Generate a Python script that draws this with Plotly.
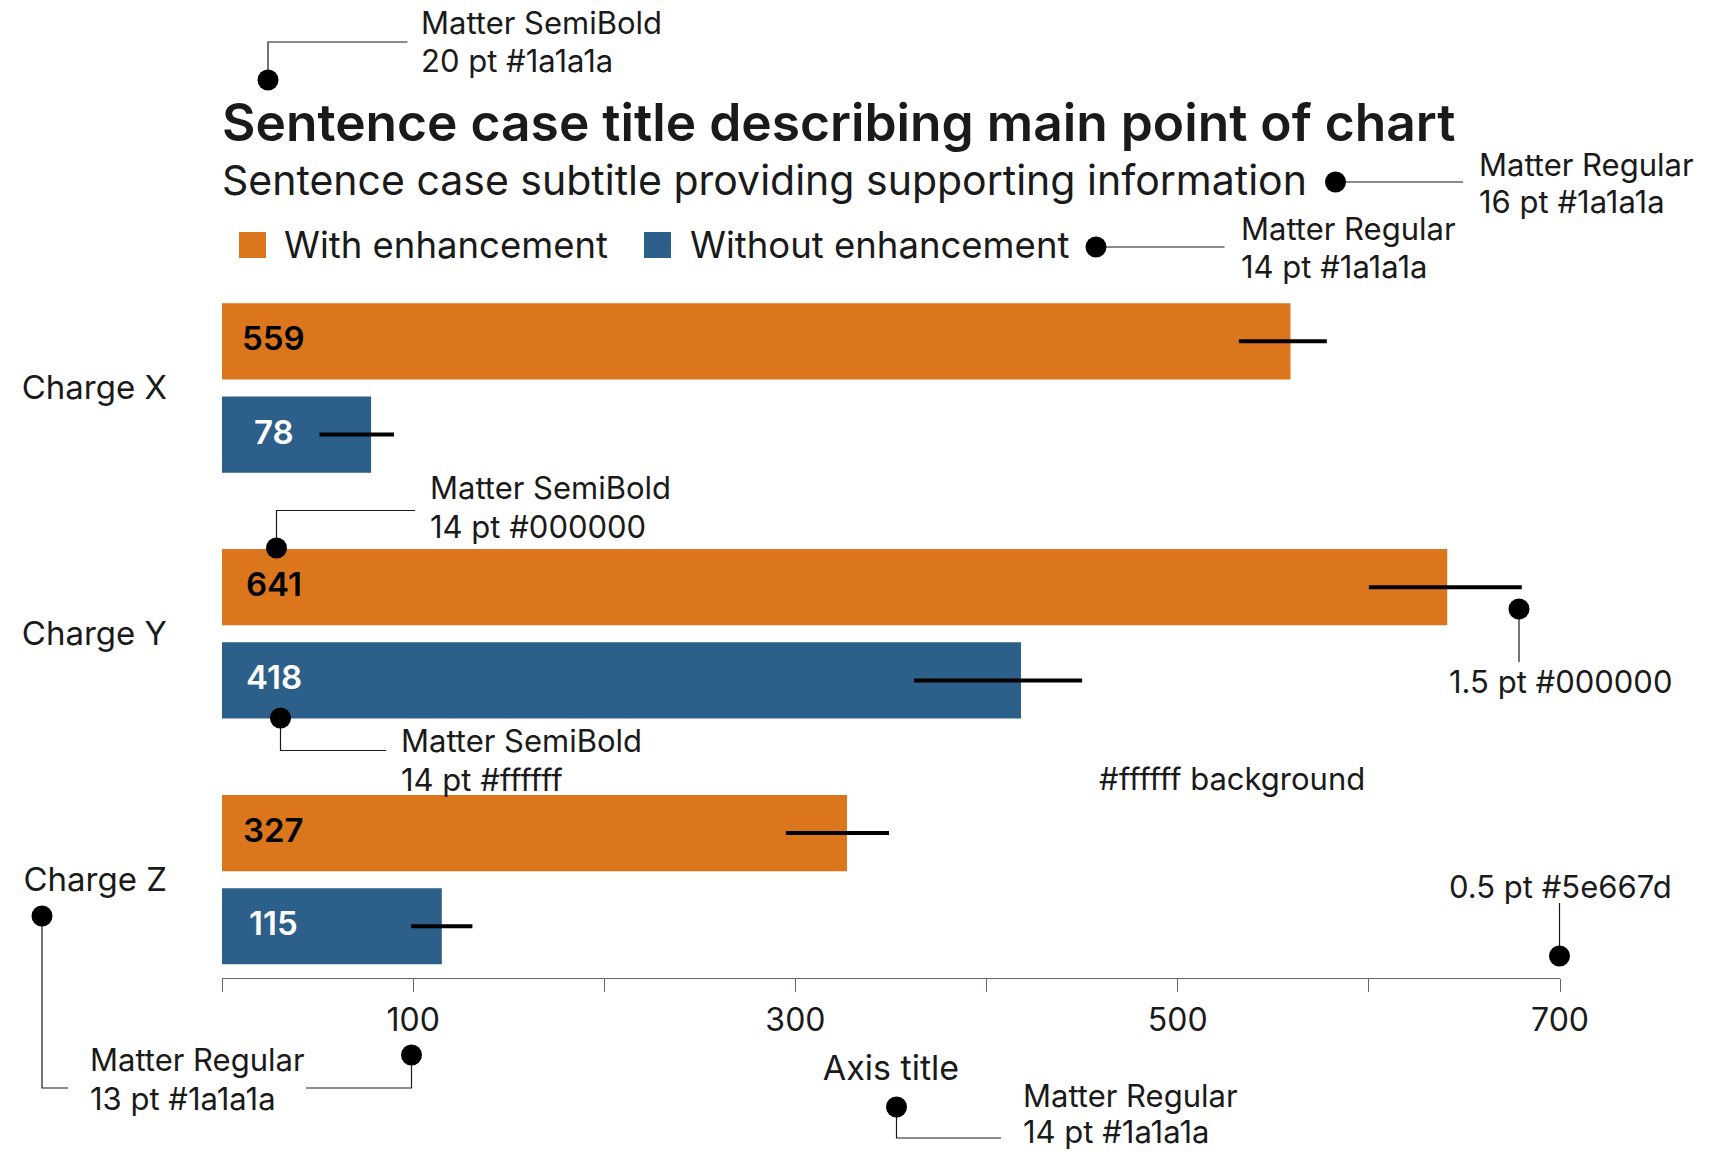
import plotly.graph_objects as go

# ---- data ----
categories = ["Charge X", "Charge Y", "Charge Z"]
series_names = ["With enhancement", "Without enhancement"]

with_enh = [559, 641, 327]
with_low = [532, 600, 295]
with_high = [578, 680, 349]

without_enh = [78, 418, 115]
without_low = [51, 362, 99]
without_high = [90, 450, 131]

x_tickvals = [0, 100, 200, 300, 400, 500, 600, 700]
x_ticktext = ["", "100", "", "300", "", "500", "", "700"]

# ---- style ----
ORANGE = "#dc761c"
BLUE = "#2c5f8a"
INK = "#1a1a1a"
AXIS = "#5e667d"
FONT = "Inter"

W, H = 1725, 1152
L, R, T, B = 222, 1560, 265, 978          # plot area in page pixels
BARGAP, BARGROUPGAP = 0.242, 0.182
Y_RANGE = [2.4, -0.5]
LABEL_X = 27                              # value labels sit near the bar start
NOTE_SIZE = 31


def px(x):
    return (x - L) / (R - L)


def py(y):
    return (B - y) / (B - T)


def err(vals, lo, hi):
    return dict(type="data", symmetric=False,
                array=[h - v for v, h in zip(vals, hi)],
                arrayminus=[v - l for v, l in zip(vals, lo)],
                color="#000000", thickness=4, width=0)


fig = go.Figure()
fig.add_trace(go.Bar(
    name=series_names[0], y=categories, x=with_enh, orientation="h",
    marker=dict(color=ORANGE, line=dict(width=0)),
    error_x=err(with_enh, with_low, with_high), showlegend=False,
))
fig.add_trace(go.Bar(
    name=series_names[1], y=categories, x=without_enh, orientation="h",
    marker=dict(color=BLUE, line=dict(width=0)),
    error_x=err(without_enh, without_low, without_high), showlegend=False,
))

annotations = []
shapes = []

# value labels inside the bars
cat_px = (B - T) / (Y_RANGE[0] - Y_RANGE[1])
offset_px = cat_px * (1 - BARGAP) / 4
for vals, colour, shift in ((with_enh, "#000000", offset_px),
                            (without_enh, "#ffffff", -offset_px)):
    for cat, v in zip(categories, vals):
        annotations.append(dict(
            x=LABEL_X, y=cat, xref="x", yref="y", yshift=shift + 3,
            text=str(v), showarrow=False, xanchor="center", yanchor="middle",
            font=dict(family=FONT, size=33, color=colour, weight=600),
        ))

# subtitle
annotations.append(dict(
    x=px(220), y=py(180), xref="paper", yref="paper",
    text="Sentence case subtitle providing supporting information",
    showarrow=False, xanchor="left", yanchor="middle",
    font=dict(family=FONT, size=41, color=INK),
))

# legend swatches and labels
for (x0, x1, tx), name, colour in zip(((239, 266, 282), (644, 671, 688)),
                                      series_names, (ORANGE, BLUE)):
    shapes.append(dict(type="rect", xref="paper", yref="paper",
                       x0=px(x0), x1=px(x1), y0=py(258), y1=py(232),
                       fillcolor=colour, line=dict(width=0)))
    annotations.append(dict(
        x=px(tx), y=py(245), xref="paper", yref="paper", text=name,
        showarrow=False, xanchor="left", yanchor="middle",
        font=dict(family=FONT, size=36.5, color=INK),
    ))

# style callouts: (text lines with centre y, text x, dots, leader paths)
callouts = [
    (["Matter SemiBold", "20 pt #1a1a1a"], [23, 61], 419,
     [(268, 80)], [[(268, 80), (268, 42), (407.5, 42)]]),
    (["Matter Regular", "16 pt #1a1a1a"], [164, 201], 1477,
     [(1335.5, 182)], [[(1335.5, 182), (1463, 182)]]),
    (["Matter Regular", "14 pt #1a1a1a"], [228, 266], 1239,
     [(1096, 247)], [[(1096, 247), (1224.5, 247)]]),
    (["Matter SemiBold", "14 pt #000000"], [487.5, 526], 427.5,
     [(276.5, 548)], [[(276.5, 548), (276.5, 510.5), (415, 510.5)]]),
    (["Matter SemiBold", "14 pt #ffffff"], [740.5, 779], 399,
     [(280.5, 718)], [[(280.5, 718), (280.5, 750.5), (386, 750.5)]]),
    (["1.5 pt #000000"], [681], 1447,
     [(1519, 609)], [[(1519, 609), (1519, 662)]]),
    (["#ffffff background"], [778], 1097, [], []),
    (["0.5 pt #5e667d"], [886], 1447,
     [(1559.5, 956)], [[(1559.5, 956), (1559.5, 903)]]),
    (["Matter Regular", "13 pt #1a1a1a"], [1059.5, 1098], 88,
     [(42, 916), (411.5, 1055)],
     [[(42, 916), (42, 1088), (68, 1088)],
      [(411.5, 1055), (411.5, 1088), (306, 1088)]]),
    (["Matter Regular", "14 pt #1a1a1a"], [1095, 1131], 1021,
     [(896.5, 1107)], [[(896.5, 1107), (896.5, 1138), (1001, 1138)]]),
]

for lines, ys, tx, dots, paths in callouts:
    for line, yy in zip(lines, ys):
        annotations.append(dict(
            x=px(tx), y=py(yy), xref="paper", yref="paper", text=line,
            showarrow=False, xanchor="left", yanchor="middle",
            font=dict(family=FONT, size=NOTE_SIZE, color=INK),
        ))
    for pts in paths:
        d = "M " + " L ".join(f"{px(a)},{py(b)}" for a, b in pts)
        shapes.append(dict(type="path", xref="paper", yref="paper", path=d,
                           line=dict(color=INK, width=1.2)))
    for cx, cy in dots:
        shapes.append(dict(type="circle", xref="paper", yref="paper",
                           xsizemode="pixel", ysizemode="pixel",
                           xanchor=px(cx), yanchor=py(cy),
                           x0=-10.5, x1=10.5, y0=-10.5, y1=10.5,
                           fillcolor="#000000", line=dict(width=0)))

fig.update_layout(
    width=W, height=H,
    margin=dict(l=L, r=W - R, t=T, b=H - B, pad=0),
    paper_bgcolor="#ffffff", plot_bgcolor="#ffffff",
    barmode="group", bargap=BARGAP, bargroupgap=BARGROUPGAP,
    showlegend=False,
    title=dict(
        text="Sentence case title describing main point of chart",
        font=dict(family=FONT, size=51.5, color=INK, weight=600),
        xref="paper", x=0, xanchor="left",
        yref="container", y=1 - 123 / H, yanchor="middle",
    ),
    xaxis=dict(
        range=[0, 700], tickvals=x_tickvals, ticktext=x_ticktext,
        ticks="outside", ticklen=13, tickwidth=1, tickcolor=AXIS,
        showline=True, linecolor=AXIS, linewidth=1.3,
        showgrid=False, zeroline=False,
        tickfont=dict(family=FONT, size=32, color=INK),
        ticklabelstandoff=0,
        title=dict(text="Axis title", standoff=18,
                   font=dict(family=FONT, size=34, color=INK)),
        fixedrange=True,
    ),
    yaxis=dict(
        range=Y_RANGE, categoryorder="array", categoryarray=categories,
        showgrid=False, zeroline=False, showline=False, ticks="",
        tickfont=dict(family=FONT, size=33, color=INK),
        ticklabelstandoff=54,
        fixedrange=True,
    ),
    annotations=annotations,
    shapes=shapes,
)

fig.write_html("out.html")
